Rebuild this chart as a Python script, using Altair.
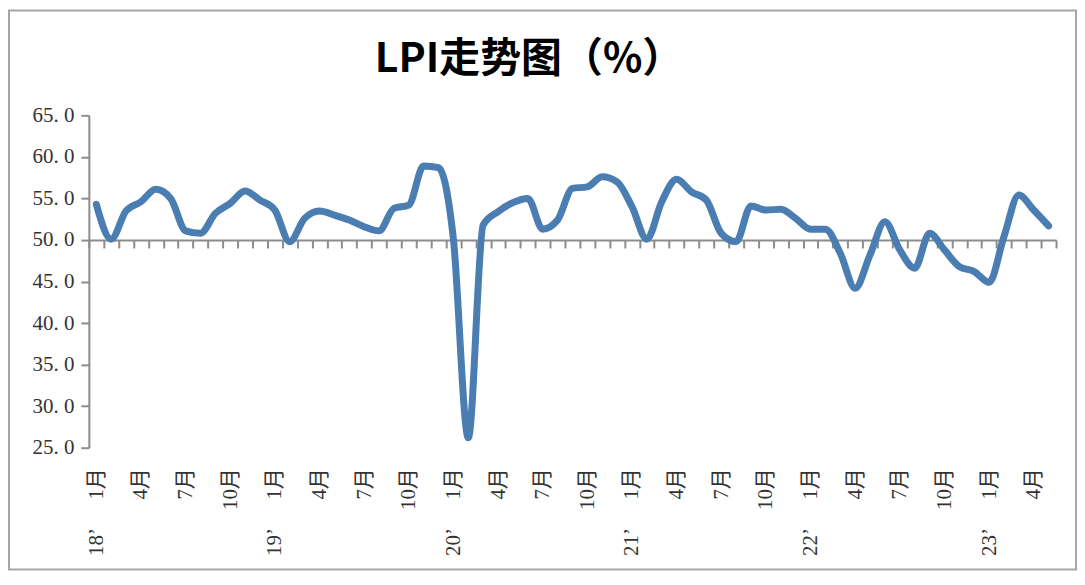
import json
import altair as alt
import pandas as pd

# ---- data ----
month_index = list(range(65))  # Jan 2018 .. May 2023
lpi = [
    54.3, 50.1, 53.5, 54.6, 56.1, 55.0, 51.1, 50.8, 53.2, 54.4, 55.9, 54.8,   # 2018
    53.6, 49.8, 52.6, 53.5, 53.0, 52.4, 51.6, 51.1, 53.8, 54.2, 58.9, 58.7,   # 2019
    50.1, 26.2, 51.8, 53.4, 54.5, 55.0, 51.3, 52.4, 56.2, 56.4, 57.6, 57.0,   # 2020
    54.0, 50.1, 54.6, 57.3, 55.8, 54.8, 50.8, 49.8, 54.1, 53.6, 53.7, 52.6,   # 2021
    51.3, 51.3, 48.4, 44.2, 48.2, 52.2, 48.8, 46.6, 50.8, 48.8, 46.8, 46.2,   # 2022
    44.9, 50.4, 55.4, 53.6, 51.7,                                             # 2023
]
month_labels = ["1月", "4月", "7月", "10月"]
month_label_index = list(range(0, 64, 3))
year_labels = ["18’", "19’", "20’", "21’", "22’", "23’"]
year_label_index = [0, 12, 24, 36, 48, 60]
y_ticks = [25, 30, 35, 40, 45, 50, 55, 60, 65]
title_text = ["LPI走势图（%）"]

# ---- styling ----
W, H = 969, 333
Y_MIN, Y_MAX = 25, 65
CROSS = 50
GRAY = "#8c8c8c"
LINE = "#4a7db2"
LABEL = "#333333"
SERIF = "Liberation Serif, Noto Sans CJK SC"

df = pd.DataFrame({"i": month_index, "v": lpi})
df_m = pd.DataFrame({"i": month_label_index})
df_y = pd.DataFrame({"i": year_label_index, "t": year_labels})
df_t = pd.DataFrame({"t": title_text})

xscale = alt.Scale(domain=[-0.5, len(lpi) - 0.5], nice=False, zero=False)
yscale = alt.Scale(domain=[Y_MIN, Y_MAX], nice=False, zero=False)
cross_px = H * (Y_MAX - CROSS) / (Y_MAX - Y_MIN)

border = alt.Chart(pd.DataFrame({"a": [0]})).mark_rect(
    filled=False, stroke="#a6a6a6", strokeWidth=2
).encode(
    x=alt.value(-80), x2=alt.value(W + 20),
    y=alt.value(-105), y2=alt.value(H + 122),
)

title = alt.Chart(df_t).mark_text(
    font="Noto Sans CJK SC", fontSize=41, fontWeight="bold", color="#000000",
    align="center", baseline="alphabetic",
).encode(text="t:N", x=alt.value(441), y=alt.value(-43))

line = alt.Chart(df).mark_line(
    color=LINE, strokeWidth=7, interpolate="monotone", strokeCap="round", strokeJoin="round"
).encode(
    x=alt.X("i:Q", scale=xscale, axis=alt.Axis(
        orient="bottom", offset=-(H - cross_px),
        values=[k - 0.5 for k in range(len(lpi) + 1)],
        labels=False, ticks=True, tickSize=8, tickWidth=2, tickColor=GRAY,
        domain=True, domainWidth=2, domainColor=GRAY, grid=False, title=None,
    )),
    y=alt.Y("v:Q", scale=yscale, axis=alt.Axis(
        orient="left", values=y_ticks,
        labelExpr="replace(format(datum.value, '.1f'), '.', '. ')",
        labelFont=SERIF, labelFontSize=21, labelColor=LABEL, labelPadding=7,
        tickSize=8, tickWidth=2, tickColor=GRAY,
        domain=True, domainWidth=2, domainColor=GRAY, grid=False, title=None,
    )),
)

month_expr = json.dumps(month_labels, ensure_ascii=False) + "[(datum.value % 12) / 3]"
month_axis = alt.Chart(df_m).mark_point(opacity=0).encode(
    x=alt.X("i:Q", scale=xscale, axis=alt.Axis(
        orient="bottom", values=month_label_index, labelExpr=month_expr,
        labelAngle=270, labelAlign="right", labelBaseline="middle",
        labelFont=SERIF, labelFontSize=21, labelColor=LABEL, labelPadding=20,
        ticks=False, tickSize=0, domain=False, grid=False, title=None,
        labelOverlap=False,
    )),
)

year_expr = json.dumps(year_labels, ensure_ascii=False) + "[datum.value / 12]"
year_axis = alt.Chart(df_y).mark_point(opacity=0).encode(
    x=alt.X("i:Q", scale=xscale, axis=alt.Axis(
        orient="bottom", values=year_label_index, labelExpr=year_expr,
        labelAngle=270, labelAlign="right", labelBaseline="middle",
        labelFont=SERIF, labelFontSize=21, labelColor=LABEL, labelPadding=80,
        ticks=False, tickSize=0, domain=False, grid=False, title=None,
        labelOverlap=False,
    )),
)

chart = alt.layer(border, title, line, month_axis, year_axis).resolve_axis(
    x="independent"
).properties(
    width=W, height=H,
    autosize=alt.AutoSizeParams(type="none"),
    padding={"left": 81, "top": 107, "right": 21, "bottom": 123},
    background="white",
).configure_view(stroke=None)

chart.save("out.html", embed_options={"renderer": "svg", "actions": False})
